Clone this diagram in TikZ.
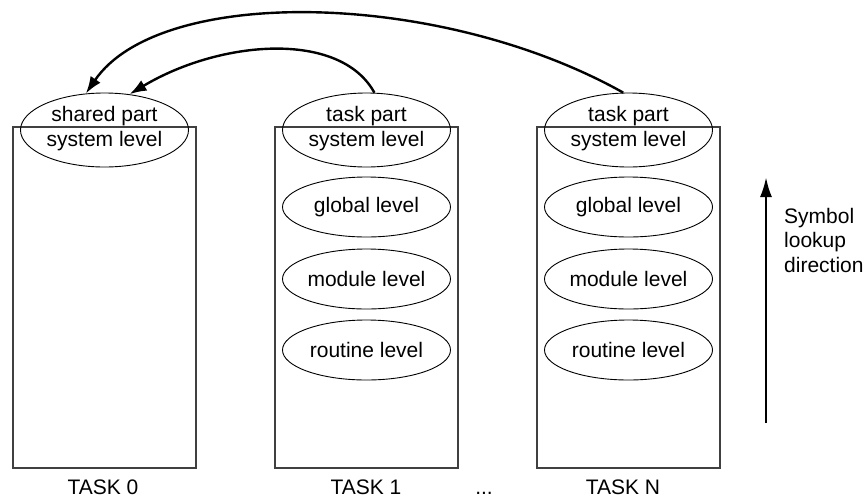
\documentclass[tikz,border=0pt]{standalone}
\usepackage{fontspec}
\setmainfont{Liberation Sans}
\usetikzlibrary{shapes.geometric,arrows.meta}
\begin{document}
\begin{tikzpicture}[x=1pt,y=-1pt,
  txt/.style={font=\fontsize{21}{25}\selectfont, inner sep=0pt},
  taskbox/.style={draw=black!75, line width=1.3pt, minimum width=183pt, minimum height=341pt, inner sep=0pt},
  topell/.style={draw, ellipse, line width=0.9pt, minimum width=168pt, minimum height=74pt, inner sep=0pt},
  lvell/.style={draw, ellipse, line width=0.9pt, minimum width=168pt, minimum height=60pt, inner sep=0pt, font=\fontsize{21}{25}\selectfont},
  bigarrow/.style={line width=2.4pt, -{Latex[length=17pt,width=12pt]}}
]
\useasboundingbox (0,0) rectangle (867,499);
% task boxes
\node[taskbox] (r0) at (104.5,297.5) {};
\node[taskbox] (r1) at (366.5,297.5) {};
\node[taskbox] (rN) at (628.5,297.5) {};
% top ellipses
\node[topell] (e0) at (104.5,130) {};
\node[topell] (e1) at (366.5,130) {};
\node[topell] (eN) at (628.5,130) {};
\node[txt, anchor=base] (t0a) at (104.5,121) {shared part};
\node[txt, anchor=base] (t0b) at (104.5,146) {system level};
\node[txt, anchor=base] (t1a) at (366.5,121) {task part};
\node[txt, anchor=base] (t1b) at (366.5,146) {system level};
\node[txt, anchor=base] (tNa) at (628.5,121) {task part};
\node[txt, anchor=base] (tNb) at (628.5,146) {system level};
% level ellipses
\node[lvell] (g1) at (366.5,207) {global level};
\node[lvell] (m1) at (366.5,279) {module level};
\node[lvell] (o1) at (366.5,350) {routine level};
\node[lvell] (gN) at (628.5,207) {global level};
\node[lvell] (mN) at (628.5,279) {module level};
\node[lvell] (oN) at (628.5,350) {routine level};
% labels
\node[txt, anchor=base] (l0) at (103,494) {TASK 0};
\node[txt, anchor=base] (l1) at (366,494) {TASK 1};
\node[txt, anchor=base] (ld) at (484,494) {...};
\node[txt, anchor=base] (lN) at (623,494) {TASK N};
% arrows
\draw[bigarrow] (e1.78) .. controls (340,30) and (220,40) .. (e0.55);
\draw[bigarrow] (eN.98) .. controls (440,-10) and (160,-15) .. (e0.117);
% lookup direction
\coordinate (ab) at (766,423);
\coordinate (at) at (766,177);
\draw[line width=2.6pt, -{Latex[length=20pt,width=12pt]}] (ab) -- (at);
\node[txt, anchor=base west] (s1) at (784,223) {Symbol};
\node[txt, anchor=base west] (s2) at (784,247) {lookup};
\node[txt, anchor=base west] (s3) at (784,272) {direction};
\end{tikzpicture}
\end{document}
